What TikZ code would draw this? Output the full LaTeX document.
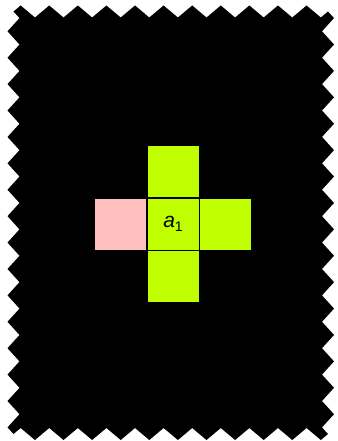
\documentclass[tikz,border=0pt]{standalone}
\usepackage{fontspec}
\setmainfont{Liberation Sans}
\usetikzlibrary{positioning}
\definecolor{cellgreen}{RGB}{191,255,0}
\definecolor{cellpink}{RGB}{255,191,191}

\begin{document}
\begin{tikzpicture}[x=1pt, y=1pt,
  cell/.style={draw=black, line width=0.6pt, minimum size=52pt,
    inner sep=0pt, fill=cellgreen, font=\fontsize{21}{24}\selectfont},
  nbr/.style={cell, fill=cellgreen},
  blocked/.style={cell, fill=cellpink}
]
\useasboundingbox (0,0) rectangle (337,441);

% Torn black sheet (11 teeth across, 16 teeth down)
\fill[black] (13.5,429.5)
  \foreach \i in {1,...,11} { -- ++(7.148,6) -- ++(14.295,-12) -- ++(7.148,6) }
  \foreach \i in {1,...,16} { -- ++(6,-6.602) -- ++(-12,-13.203) -- ++(6,-6.602) }
  \foreach \i in {1,...,11} { -- ++(-7.148,-6) -- ++(-14.295,12) -- ++(-7.148,-6) }
  \foreach \i in {1,...,16} { -- ++(-6,6.602) -- ++(12,13.203) -- ++(-6,6.602) }
  -- cycle;

% Centre cell and its four neighbours
\node[cell] (a1) at (173,217)
  {\itshape a\raisebox{-0.35ex}{\upshape\fontsize{14}{14}\selectfont 1}};
\node[nbr, above=0pt of a1] (north) {};
\node[nbr, below=0pt of a1] (south) {};
\node[nbr, right=0pt of a1] (east) {};
\node[blocked, left=0pt of a1] (west) {};

\end{tikzpicture}
\end{document}
